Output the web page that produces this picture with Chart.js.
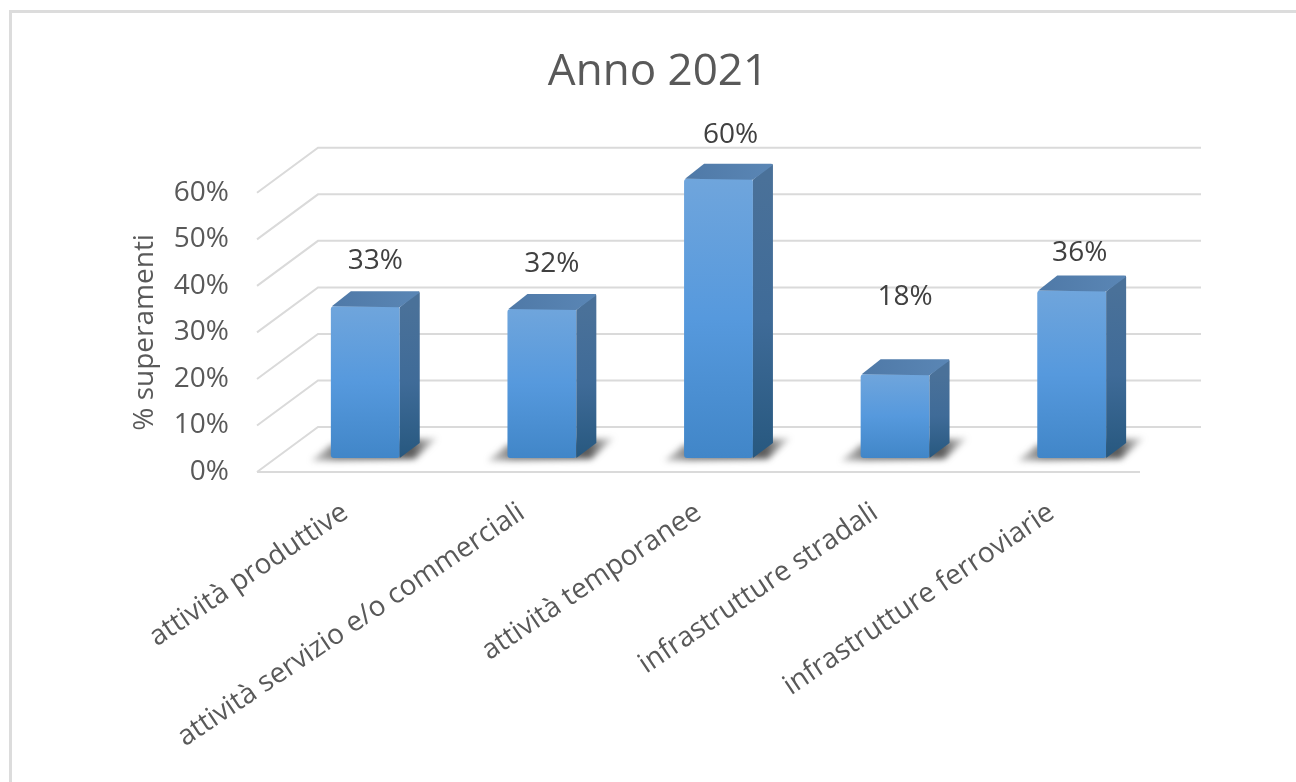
<!DOCTYPE html>
<html>
<head>
<meta charset="utf-8">
<title>Anno 2021</title>
<script src="https://cdn.jsdelivr.net/npm/chart.js@4/dist/chart.umd.min.js"></script>
<style>
    html, body { margin: 0; padding: 0; background: #fff; overflow: hidden; }
    #frame { position: absolute; left: 9px; top: 10px; width: 1400px; height: 900px; border: 3px solid #dcdcdc; box-sizing: border-box; }
    /* the original picture is a slightly soft screenshot */
    #chart { position: absolute; left: 0; top: 0; filter: blur(0.5px); }
</style>
</head>
<body>
<div id="frame"></div>
<canvas id="chart" width="1296" height="782"></canvas>
<script>
// Chart data
const categories = ['attività produttive', 'attività servizio e/o commerciali', 'attività temporanee', 'infrastrutture stradali', 'infrastrutture ferroviarie'];
const superamenti = [32.6, 32, 60, 18, 36];

// 3D look: how far the back wall and the bar sit behind the front plane
const WALL_DX = 61, WALL_DY = -45;
const BAR_DX = 20, BAR_DY = -14;
const SIDE_DX = 20, SIDE_DY = -15;
// the data labels were moved by hand in the original chart
const labelShiftX = [10, 10, 12, 10, 8];
const labelShiftY = [-45, -45, -44, -77, -37];

const FONT = '"Open Sans", sans-serif';
const TEXT = '#595959';
const GRID = '#dadada';

function faceGradient(ctx, top, bottom, stops) {
    const g = ctx.createLinearGradient(0, top, 0, bottom);
    stops.forEach((c, i) => g.addColorStop(i / (stops.length - 1), c));
    return g;
}

const wall3d = {
    id: 'wall3d',
    afterLayout(chart) {
        // the title is centred over the plot box, not over the canvas
        chart.titleBlock.left = 176;
        chart.titleBlock.right = 1140;
    },
    beforeDatasetsDraw(chart) {
        const { ctx, chartArea, scales } = chart;
        const yScale = scales.y;
        ctx.save();
        ctx.strokeStyle = GRID;
        ctx.lineWidth = 2;
        yScale.ticks.forEach(t => {
            const y = yScale.getPixelForValue(t.value);
            ctx.beginPath();
            ctx.moveTo(chartArea.left, y);
            ctx.lineTo(chartArea.left + WALL_DX, y + WALL_DY);
            ctx.lineTo(chartArea.right + WALL_DX, y + WALL_DY);
            ctx.stroke();
        });
        // front edge of the floor
        const y0 = yScale.getPixelForValue(0);
        ctx.beginPath();
        ctx.moveTo(chartArea.left, y0);
        ctx.lineTo(chartArea.right, y0);
        ctx.stroke();

        // shadows on the floor
        chart.getDatasetMeta(0).data.forEach(bar => {
            const l = bar.x - bar.width / 2 + BAR_DX;
            const r = bar.x + bar.width / 2 + BAR_DX;
            const b = y0 + BAR_DY;
            const g = ctx.createLinearGradient(l - 20, 0, r + 38, 0);
            g.addColorStop(0, 'rgba(90,90,90,0.3)');
            g.addColorStop(0.2, 'rgba(70,70,70,0.7)');
            g.addColorStop(0.8, 'rgba(60,60,60,0.85)');
            g.addColorStop(1, 'rgba(90,90,90,0.15)');
            ctx.save();
            ctx.filter = 'blur(3px)';
            ctx.fillStyle = g;
            ctx.beginPath();
            ctx.moveTo(l - 20, b + 3);
            ctx.lineTo(l, b - 13);
            ctx.lineTo(r + 38, b - 20);
            ctx.lineTo(r + 15, b + 1);
            ctx.closePath();
            ctx.fill();
            ctx.restore();
        });
        ctx.restore();

        // the bars themselves are drawn by the library, shifted back into the box
        ctx.save();
        ctx.translate(BAR_DX, BAR_DY);
    },
    afterDatasetsDraw(chart) {
        const { ctx } = chart;
        ctx.restore();
        const meta = chart.getDatasetMeta(0);
        meta.data.forEach((bar, i) => {
            const l = bar.x - bar.width / 2 + BAR_DX;
            const r = bar.x + bar.width / 2 + BAR_DX;
            const top = bar.y + BAR_DY;
            const b = bar.base + BAR_DY;

            // side face
            ctx.fillStyle = faceGradient(ctx, top, b, ['#4a7199', '#3f6b98', '#27587f']);
            ctx.beginPath();
            ctx.moveTo(r, top + 1);
            ctx.lineTo(r + SIDE_DX - 1, top + SIDE_DY);
            ctx.quadraticCurveTo(r + SIDE_DX, top + SIDE_DY, r + SIDE_DX, top + SIDE_DY + 2);
            ctx.lineTo(r + SIDE_DX, b + SIDE_DY);
            ctx.lineTo(r, b);
            ctx.closePath();
            ctx.fill();

            // top face
            const g = ctx.createLinearGradient(l, 0, r + SIDE_DX, 0);
            g.addColorStop(0, '#4f79a7');
            g.addColorStop(1, '#5a86b5');
            ctx.fillStyle = g;
            ctx.beginPath();
            ctx.moveTo(l + 1, top);
            ctx.lineTo(l + SIDE_DX, top + SIDE_DY);
            ctx.lineTo(r + SIDE_DX - 2, top + SIDE_DY);
            ctx.quadraticCurveTo(r + SIDE_DX, top + SIDE_DY, r + SIDE_DX - 1, top + SIDE_DY + 2);
            ctx.lineTo(r, top + 1);
            ctx.closePath();
            ctx.fill();

            // data label
            ctx.fillStyle = '#404040';
            ctx.font = '28px ' + FONT;
            ctx.textAlign = 'center';
            ctx.textBaseline = 'middle';
            ctx.fillText(Math.round(superamenti[i]) + '%', bar.x + BAR_DX + labelShiftX[i], top + labelShiftY[i]);
        });
    }
};

const ctx = document.getElementById('chart').getContext('2d');
new Chart(ctx, {
    type: 'bar',
    data: {
        labels: categories,
        datasets: [{
            label: '% superamenti',
            data: superamenti,
            barPercentage: 0.39,
            categoryPercentage: 1,
            borderRadius: 3,
            borderSkipped: false,
            clip: false,
            backgroundColor(c) {
                const yScale = c.chart.scales.y;
                if (!yScale || c.raw === undefined) return '#5699dd';
                const top = yScale.getPixelForValue(c.raw);
                const bottom = yScale.getPixelForValue(0);
                // scales have no pixels yet on the first pass
                if (!Number.isFinite(top) || !Number.isFinite(bottom)) return '#5699dd';
                return faceGradient(c.chart.ctx, top, bottom, ['#6fa5dc', '#5699dd', '#4186c8']);
            }
        }]
    },
    options: {
        responsive: false,
        animation: false,
        devicePixelRatio: 1,
        layout: { padding: { left: 0, right: 156, top: 0, bottom: 0 } },
        plugins: {
            legend: { display: false },
            tooltip: { enabled: false },
            title: {
                display: true,
                text: 'Anno 2021',
                color: TEXT,
                font: { family: FONT, size: 44, weight: 'normal' },
                padding: { top: 46, bottom: 94 }
            }
        },
        scales: {
            x: {
                grid: { display: false },
                border: { display: false },
                afterFit(scale) { scale.height = 310; },
                ticks: {
                    color: TEXT,
                    font: { family: FONT, size: 28 },
                    minRotation: 34,
                    maxRotation: 34,
                    autoSkip: false,
                    padding: 16
                }
            },
            y: {
                min: 0,
                max: 60,
                grid: { display: false },
                border: { display: false },
                afterFit(scale) { scale.width = 257; },
                ticks: {
                    stepSize: 10,
                    color: TEXT,
                    padding: 20,
                    font: { family: FONT, size: 28 },
                    callback: v => v + '%'
                },
                title: {
                    display: true,
                    text: '% superamenti',
                    color: TEXT,
                    font: { family: FONT, size: 28, weight: '500' },
                    padding: { top: 128, bottom: 0 }
                }
            }
        }
    },
    plugins: [wall3d]
});
</script>
</body>
</html>
